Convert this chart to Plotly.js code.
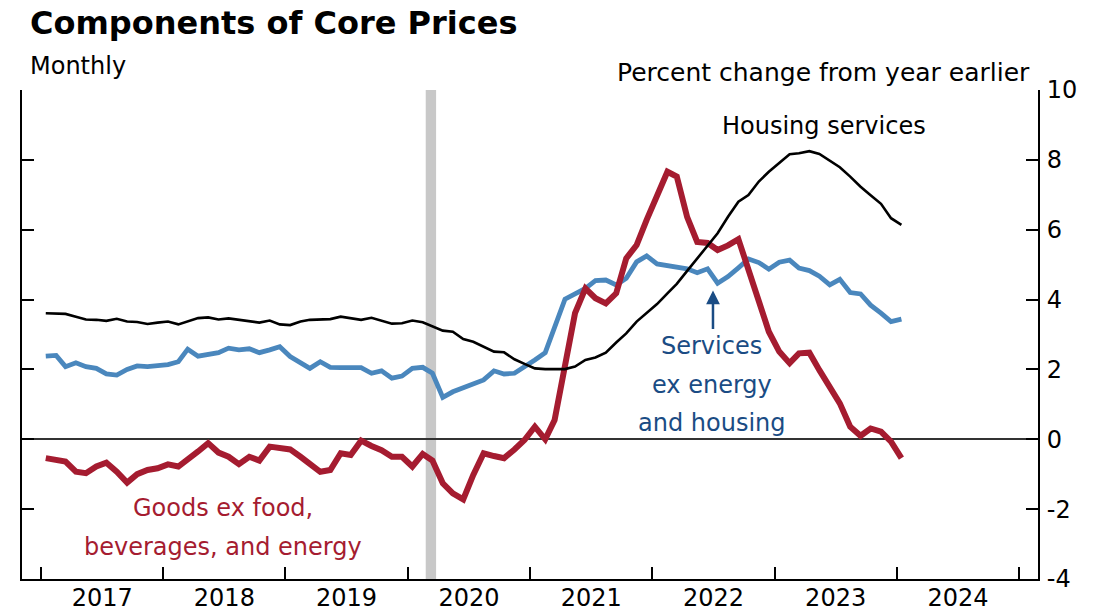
<!DOCTYPE html>
<html>
<head>
<meta charset="utf-8">
<script src="https://cdn.plot.ly/plotly-3.0.1.min.js"></script>
<style>
html, body { margin: 0; padding: 0; background: #fff; }
#chart { width: 1107px; height: 614px; }
</style>
</head>
<body>
<div id="chart"></div>
<script>
// Monthly observations, Jan 2017 through Jan 2024 (percent change from year earlier)
const startYear = 2017;
const housingServices = [
  3.61,3.61,3.59,3.51,3.43,3.42,3.39,3.45,3.37,3.36,3.30,3.34,
  3.37,3.29,3.37,3.47,3.49,3.43,3.46,3.42,3.36,3.34,3.40,3.29,
  3.27,3.37,3.42,3.44,3.44,3.51,3.47,3.42,3.48,3.40,3.31,3.32,
  3.40,3.35,3.24,3.11,3.08,2.87,2.79,2.65,2.51,2.49,2.29,2.16,
  2.03,2.01,2.00,2.01,2.08,2.27,2.34,2.48,2.77,3.03,3.37,3.61,
  3.87,4.18,4.45,4.82,5.18,5.53,5.90,6.37,6.80,6.99,7.38,7.66,
  7.92,8.16,8.19,8.25,8.17,7.97,7.79,7.52,7.23,6.99,6.74,6.33,
  6.14
];
const servicesExEnergyHousing = [
  2.38,2.40,2.08,2.19,2.08,2.03,1.87,1.84,2.00,2.10,2.08,2.10,
  2.14,2.22,2.58,2.38,2.44,2.48,2.61,2.56,2.59,2.48,2.56,2.65,
  2.37,2.19,2.03,2.22,2.06,2.05,2.05,2.05,1.89,1.96,1.75,1.81,
  2.03,2.06,1.89,1.20,1.36,1.48,1.58,1.70,1.96,1.87,1.89,2.06,
  2.27,2.48,3.18,4.01,4.16,4.32,4.54,4.56,4.42,4.61,5.08,5.25,
  5.02,4.96,4.92,4.88,4.77,4.88,4.47,4.66,4.91,5.16,5.06,4.87,
  5.07,5.13,4.90,4.83,4.67,4.42,4.58,4.20,4.16,3.84,3.61,3.37,
  3.44
];
const goodsExFoodBevEnergy = [
  -0.54,-0.59,-0.64,-0.93,-0.97,-0.78,-0.67,-0.93,-1.24,-1.00,-0.88,-0.83,
  -0.72,-0.78,-0.59,-0.35,-0.11,-0.38,-0.50,-0.71,-0.50,-0.61,-0.21,-0.23,
  -0.29,-0.50,-0.69,-0.93,-0.88,-0.40,-0.45,-0.04,-0.19,-0.31,-0.50,-0.50,
  -0.78,-0.42,-0.61,-1.26,-1.55,-1.72,-1.02,-0.40,-0.48,-0.54,-0.29,-0.02,
  0.36,0.00,0.55,2.08,3.61,4.32,4.04,3.89,4.18,5.18,5.56,6.28,
  6.95,7.66,7.52,6.36,5.65,5.62,5.42,5.55,5.73,4.85,3.89,3.08,
  2.51,2.18,2.46,2.48,1.98,1.51,1.03,0.36,0.10,0.31,0.22,-0.07,
  -0.54
];
const yTickValues = [-4, -2, 0, 2, 4, 6, 8, 10];
const yTickLabels = ['-4', '-2', '0', '2', '4', '6', '8', '10'];
const recessionPeriod = ['2020-02-24', '2020-03-26'];

function monthDates(n) {
  const out = [];
  for (let i = 0; i < n; i++) {
    const y = startYear + Math.floor(i / 12);
    const m = (i % 12) + 1;
    out.push(y + '-' + String(m).padStart(2, '0') + '-15');
  }
  return out;
}
const dates = monthDates(housingServices.length);

const FONT = 'DejaVu Sans';
const RED = '#a51c30';
const BLUE = '#4a87bd';
const BLUE_TEXT = '#1a4c84';

const traces = [
  { x: dates, y: servicesExEnergyHousing, type: 'scatter', mode: 'lines',
    line: { color: BLUE, width: 4.8 }, hoverinfo: 'skip', showlegend: false },
  { x: dates, y: goodsExFoodBevEnergy, type: 'scatter', mode: 'lines',
    line: { color: RED, width: 6 }, hoverinfo: 'skip', showlegend: false },
  { x: dates, y: housingServices, type: 'scatter', mode: 'lines',
    line: { color: '#000', width: 2.6 }, hoverinfo: 'skip', showlegend: false }
];

function txt(text, x, y, opts) {
  return Object.assign({ text: text, x: x, y: y, xref: 'paper', yref: 'paper',
    showarrow: false, xanchor: 'center', yanchor: 'middle',
    font: { family: FONT, size: 24, color: '#000' } }, opts || {});
}

const layout = {
  width: 1107, height: 614,
  margin: { l: 22, r: 69, t: 90, b: 35 },
  paper_bgcolor: '#fff', plot_bgcolor: '#fff',
  showlegend: false,
  xaxis: {
    type: 'date', range: ['2016-11-05', '2025-02-26'],
    tick0: '2017-01-01', dtick: 'M12', tickformat: '%Y', ticklabelmode: 'period',
    ticks: 'inside', ticklen: 12, tickwidth: 2, tickcolor: '#000',
    showline: true, linewidth: 2, linecolor: '#000',
    showgrid: false, zeroline: false, ticklabelstandoff: -4,
    tickfont: { family: FONT, size: 24, color: '#000' }
  },
  yaxis: {
    range: [-4, 10], side: 'right', tickvals: yTickValues, ticktext: yTickLabels,
    ticks: 'inside', ticklen: 12, tickwidth: 2, tickcolor: '#000',
    showline: true, mirror: 'ticks', linewidth: 2, linecolor: '#000',
    showgrid: false, zeroline: true, zerolinecolor: '#333', zerolinewidth: 1.6,
    ticklabelstandoff: 2,
    tickfont: { family: FONT, size: 24, color: '#000' }
  },
  shapes: [
    { type: 'rect', xref: 'x', yref: 'paper', x0: recessionPeriod[0], x1: recessionPeriod[1],
      y0: 0, y1: 1, fillcolor: '#c8c8c8', line: { width: 0 }, layer: 'below' }
  ],
  annotations: [
    txt('<b>Components of Core Prices</b>', 0.006, 1.137, { xanchor: 'left', font: { family: FONT, size: 32, color: '#000' } }),
    txt('Monthly', 0.006, 1.05, { xanchor: 'left' }),
    txt('Percent change from year earlier', 0.994, 1.035, { xanchor: 'right', font: { family: FONT, size: 25, color: '#000' } }),
    txt('Housing services', 0.7894, 0.9264),
    txt('Services', 0.6791, 0.4765, { font: { family: FONT, size: 24, color: BLUE_TEXT } }),
    txt('ex energy', 0.6791, 0.3967, { font: { family: FONT, size: 24, color: BLUE_TEXT } }),
    txt('and housing', 0.6791, 0.319, { font: { family: FONT, size: 24, color: BLUE_TEXT } }),
    txt('Goods ex food,', 0.1978, 0.1452, { font: { family: FONT, size: 24, color: RED } }),
    txt('beverages, and energy', 0.1978, 0.0654, { font: { family: FONT, size: 24, color: RED } }),
    { text: '', xref: 'paper', yref: 'paper', x: 0.6801, y: 0.590, showarrow: true,
      ax: 0, ay: 40, arrowhead: 2, arrowsize: 1.1, arrowwidth: 2.5, arrowcolor: BLUE_TEXT }
  ]
};

Plotly.newPlot('chart', traces, layout, { displayModeBar: false, staticPlot: true });
</script>
</body>
</html>
